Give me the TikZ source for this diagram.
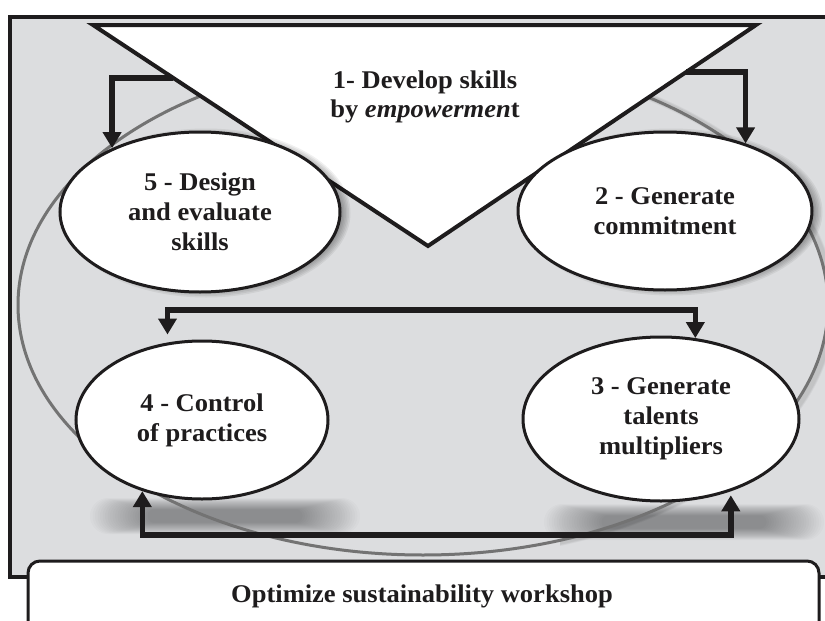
\documentclass[tikz,border=0pt]{standalone}
\usepackage{fontspec}
\setmainfont{Liberation Serif}[FakeStretch=1.04]
\usetikzlibrary{arrows.meta,shapes.geometric,calc}

\definecolor{panel}{RGB}{220,221,223}
\definecolor{ring}{RGB}{115,115,115}
\definecolor{ink}{RGB}{30,28,29}

\newcommand\stagefont{\fontsize{25.5}{30}\selectfont\bfseries}
\newcommand\headfont{\fontsize{25.5}{29}\selectfont\bfseries}

\tikzset{
  stage/.style={ellipse, draw=ink, line width=3pt, fill=white, inner sep=0pt,
                align=center, text=ink, font=\stagefont},
  flow/.style={draw=ink, line width=5.5pt, -{Triangle[width=18pt,length=16pt]}},
  flowboth/.style={draw=ink, line width=5.5pt,
                   {Triangle[width=18pt,length=16pt]}-{Triangle[width=18pt,length=16pt]}},
  softshade/.style={black, opacity=0.016},
}

\begin{document}
\begin{tikzpicture}[x=1pt,y=-1pt]
\useasboundingbox (0,0) rectangle (825,621);
\clip (0,0) rectangle (825,621);

% grey panel
\filldraw[fill=panel, draw=ink, line width=4pt] (10,17) rectangle (900,577);

% soft ground shadows under the lower stages
\foreach \k in {0,...,23} {
  \fill[softshade, rounded corners={(18-0.5*\k)*1pt-0.1pt}]
    ({90+2.5*\k},{498+0.5*\k}) rectangle ({360-2.5*\k},{534-0.5*\k});
  \fill[softshade, rounded corners={(18-0.5*\k)*1pt-0.1pt}]
    ({544+2.5*\k},{504+0.5*\k}) rectangle ({824-2.5*\k},{540-0.5*\k});
}

% large ring, shaded on its right-hand side
\begin{scope}
  \clip (560,0) rectangle (825,621);
  \foreach \k in {1,...,3}
    \draw[black, opacity=0.04, line width={3pt+1.5pt*\k}] (427,306) ellipse (405 and 250);
\end{scope}
\draw[ring, line width=3pt] (423,305) ellipse (405 and 250);

% central triangle
\coordinate (TL) at (93,25);
\coordinate (TR) at (756,25);
\coordinate (TB) at (428,246);
\filldraw[fill=white, draw=ink, line width=4pt, line join=miter] (TL) -- (TR) -- (TB) -- cycle;
\node[align=center, text=ink, font=\headfont] (t1) at (425,97)
  {1- Develop skills\\by \textit{empowermen}t};

% stage centres
\coordinate (c5) at (200,212);
\coordinate (c2) at (665,211);
\coordinate (c4) at (202,420);
\coordinate (c3) at (661,419);

% drop shadows of the upper stages
\foreach \k in {0,...,5} {
  \fill[black, opacity=0.06] ($(c5)+(6,1)$) ellipse ({137+1.5*\k} and {77+1.5*\k});
  \fill[black, opacity=0.06] ($(c2)+(6,1)$) ellipse ({144+1.5*\k} and {76+1.5*\k});
}

% stages
\node[stage, minimum width=280pt, minimum height=160pt] (e5) at (c5)
  {5 - Design\\and evaluate\\skills};
\node[stage, minimum width=294pt, minimum height=158pt] (e2) at (c2)
  {2 - Generate\\commitment};
\node[stage, minimum width=252pt, minimum height=158pt] (e4) at (c4)
  {4 - Control\\of practices};
\node[stage, minimum width=276pt, minimum height=164pt] (e3) at (c3)
  {3 - Generate\\talents\\multipliers};

% connectors
\coordinate (t5) at ($(TL)!0.2398!(TB)$);
\coordinate (t2) at ($(TR)!0.2127!(TB)$);
\coordinate (upper) at (0,310);
\coordinate (lower) at (0,535);
\draw[flow] (t5) -| (e5.144);
\draw[flow] (t2) -| (e2.40);
\draw[flowboth, shorten <=8pt] (e4.114) -- (e4.114 |- upper) -| (e3.67);
\draw[flowboth, shorten >=4pt] (e4.230) -- (e4.230 |- lower) -| (e3.-46);

% workshop banner
\filldraw[fill=white, draw=ink, line width=3pt, rounded corners=12pt] (28,561) rectangle (819,670);
\node[text=ink, font=\headfont] (ws) at (422,596) {Optimize sustainability workshop};
\end{tikzpicture}
\end{document}
